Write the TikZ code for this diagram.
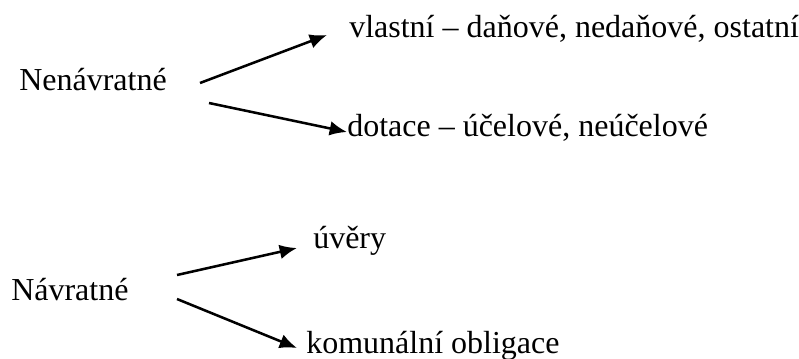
\documentclass[tikz,border=0pt]{standalone}
\usepackage{fontspec}
\setmainfont{Liberation Serif}
\usetikzlibrary{arrows.meta}

\begin{document}
\begin{tikzpicture}[x=0.75pt,y=-0.75pt,line width=1.9pt,
    txt/.style={anchor=base west,inner sep=0pt,font=\fontsize{24}{28}\selectfont},
    arr/.style={-{Latex[length=13pt,width=11pt]}}]
      \useasboundingbox (0,0) rectangle (799,358);
      % kinds of income
      \node[txt] (nenavr) at (18,90) {Nenávratné};
      \node[txt] (navr) at (10,300) {Návratné};
      % own sources and grants
      \node[txt] (vlastni) at (348,37) {vlastní – daňové, nedaňové, ostatní};
      \node[txt] (dotace) at (346,136) {dotace – účelové, neúčelové};
      % loans and bonds
      \node[txt] (uvery) at (312,248) {úvěry};
      \node[txt] (oblig) at (305,353) {komunální obligace};
      \coordinate (n1) at (200,83);
      \coordinate (n2) at (209,103);
      \coordinate (v1) at (177,275);
      \coordinate (v2) at (177,299);
      \coordinate (t1) at (327,35);
      \coordinate (t2) at (347,132);
      \coordinate (t3) at (297,248);
      \coordinate (t4) at (297,348);
      \draw[arr] (n1) -- (t1);
      \draw[arr] (n2) -- (t2);
      \draw[arr] (v1) -- (t3);
      \draw[arr] (v2) -- (t4);
    \end{tikzpicture}
\end{document}
